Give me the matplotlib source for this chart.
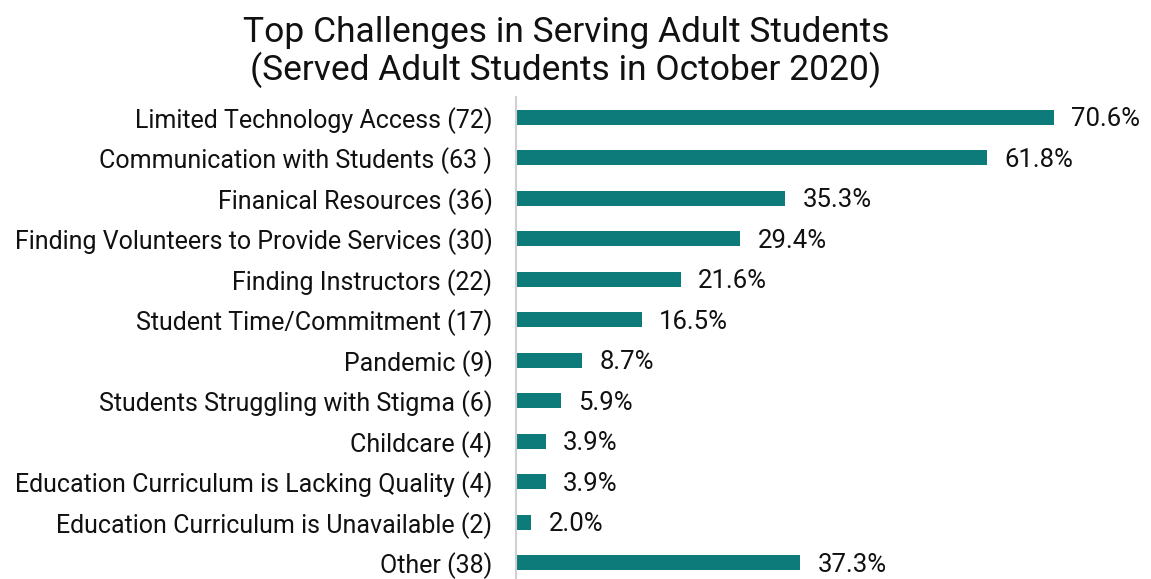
import matplotlib.pyplot as plt

plt.rcParams['font.family'] = ['Roboto', 'DejaVu Sans']

categories = [
    'Limited Technology Access (72)',
    'Communication with Students (63 )',
    'Finanical Resources (36)',
    'Finding Volunteers to Provide Services (30)',
    'Finding Instructors (22)',
    'Student Time/Commitment (17)',
    'Pandemic (9)',
    'Students Struggling with Stigma (6)',
    'Childcare (4)',
    'Education Curriculum is Lacking Quality (4)',
    'Education Curriculum is Unavailable (2)',
    'Other (38)',
]
percents = [70.6, 61.8, 35.3, 29.4, 21.6, 16.5, 8.7, 5.9, 3.9, 3.9, 2.0, 37.3]

fig = plt.figure(figsize=(11.51, 5.79), dpi=100)
ax = fig.add_axes([516 / 1151, 0, (1140 - 516) / 1151, 1 - 97 / 579])

pos = list(range(len(categories)))
ax.barh(pos, percents, height=0.37, color='#0E7B7B')
for p, v in zip(pos, percents):
    ax.text(v + 2.3, p + 0.05, f'{v:.1f}%', va='center', ha='left', fontsize=18.5, color='#111111')

ax.set_xlim(0, 81.9)
ax.set_ylim(11.4, -0.5)
ax.set_yticks(pos)
ax.set_yticklabels(categories, fontsize=18, color='#111111')
ax.tick_params(axis='y', length=0, pad=17)
ax.set_xticks([])
for s in ['top', 'right', 'bottom']:
    ax.spines[s].set_visible(False)
ax.spines['left'].set_color('#d0d0d0')
ax.spines['left'].set_linewidth(1.5)

fig.text(566 / 1151, 1 - 52 / 579, 'Top Challenges in Serving Adult Students\n(Served Adult Students in October 2020)',
         ha='center', va='center', fontsize=25.5, color='#111111', linespacing=1.1)

fig.savefig('out.png', dpi=100)
